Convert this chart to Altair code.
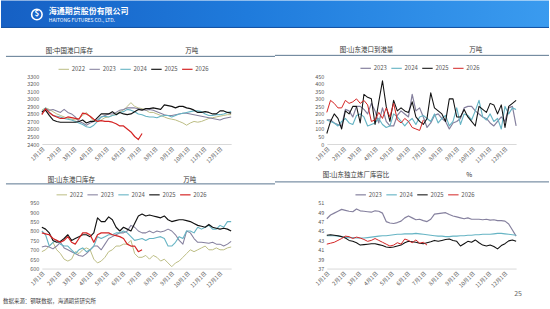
import altair as alt
import pandas as pd

# ---------------- data ----------------
month_days = [0, 31, 60, 91, 121, 152, 182, 213, 244, 274, 305, 335]
month_labels = ["1月1日", "2月1日", "3月1日", "4月1日", "5月1日", "6月1日",
                "7月1日", "8月1日", "9月1日", "10月1日", "11月1日", "12月1日"]

years5 = ["2022", "2023", "2024", "2025", "2026"]
years4 = ["2023", "2024", "2025", "2026"]

# Chart 1: 中国港口库存 (万吨)
c1_2022 = [2850,2880,2860,2830,2800,2780,2760,2740,2730,2720, 2740,2780,2820,2760,2700,2700,2720,2750,2760,2780,
           2800,2830,2850,2900,2950,2900,2880,2870,2850,2820, 2820,2800,2780,2760,2740,2730,2720,2700,2680,2650,
           2680,2700,2690,2700,2720,2740,2750,2760,2770,2780, 2790,2790]
c1_2023 = [2800,2870,2850,2860,2840,2820,2860,2820,2800,2760, 2700,2680,2650,2680,2700,2720,2760,2780,2800,2800,
           2820,2850,2860,2880,2880,2880,2870,2860,2850,2860, 2850,2830,2810,2790,2780,2780,2790,2800,2810,2810,
           2800,2790,2780,2770,2760,2750,2740,2730,2720,2740, 2750,2760]
c1_2024 = [2820,2880,2820,2780,2770,2760,2740,2730,2720,2700, 2680,2660,2630,2620,2650,2700,2760,2770,2760,2780,
           2790,2820,2830,2860,2850,2830,2800,2790,2770,2760, 2760,2750,2770,2780,2780,2760,2780,2800,2810,2820,
           2830,2840,2840,2830,2800,2780,2780,2790,2790,2800, 2820,2830]
c1_2025 = [2830,2850,2780,2720,2700,2690,2690,2690,2690,2690, 2700,2720,2680,2700,2700,2750,2800,2800,2800,2830,
           2790,2820,2800,2790,2800,2830,2860,2850,2870,2870, 2880,2870,2860,2920,2910,2900,2880,2900,2900,2880,
           2870,2850,2820,2820,2830,2820,2800,2800,2840,2840, 2820,2810]
c1_2026 = [2790,2870,2820,2780,2760,2740,2740,2760,2750,2740, 2730,2810,2800,2770,2730,2700,2710,2700,2700,2690,
           2670,2640,2640,2600,2560,2500,2460,2540]

# Chart 2: 山东港口到港量 (万吨)
c2_2023 = [160,160,140,130,120,230,220,180,250,250, 230,200,270,220,140,240,150,120,120,190,
           220,200,180,330,220,240,180,110,140,190, 200,170,150,100,140,150,170,240,250,250,
           220,200,180,170,140,120,150,180,150,240, 250,120]
c2_2024 = [160,150,140,120,150,170,140,130,190,200, 180,120,130,140,170,130,110,120,200,180,
           150,120,150,170,130,180,190,170,150,200, 140,170,190,120,150,240,130,200,190,160,
           220,290,180,160,200,150,170,100,250,200, 240,230]
c2_2025 = [70,150,200,170,100,220,200,250,250,140, 330,310,300,130,280,420,250,150,290,220,
           240,220,210,280,180,150,130,170,340,240, 220,200,150,300,300,180,180,230,180,150,
           120,250,230,210,270,260,200,260,110,250, 270,290]
c2_2026 = [210,290,270,240,240,290,270,280,300,270, 290,260,150,160,210,170,240,180,270,160,
           140,170,150,110,100,90,160]

# Chart 3: 山东港口库存 (万吨)
c3_2022 = [690,700,720,740,700,680,650,640,650,690, 680,700,710,700,650,630,640,660,690,700,
           720,720,730,730,750,680,660,660,670,650, 670,660,640,650,630,610,630,640,660,680,
           700,690,700,710,720,700,700,710,700,700, 710,715]
c3_2023 = [715,720,715,705,720,740,710,700,690,680, 670,665,680,700,720,720,700,730,760,770,
           780,790,790,800,830,820,800,790,790,800, 790,800,795,800,810,800,780,750,730,800,
           790,760,740,740,738,735,740,730,730,720, 730,745]
c3_2024 = [800,780,720,740,750,730,720,720,700,680, 700,710,690,700,720,770,760,770,780,780,
           790,790,800,790,770,750,755,760,750,760, 760,765,770,760,720,720,740,770,760,800,
           800,790,820,810,820,830,810,810,830,820, 850,850]
c3_2025 = [820,810,790,750,740,745,760,780,750,760, 770,780,780,770,790,870,850,850,875,860,
           820,800,820,810,800,840,880,890,880,885, 880,875,870,880,860,850,855,860,860,855,
           850,840,830,825,820,835,820,815,810,815, 810,800]
c3_2026 = [790,785,780,760,750,740,750,770,740,730, 760,790,790,780,740,780,790,790,790,780,
           775,770,760,730,720,720,690,700]

# Chart 4: 山东独立炼厂库容比 (%)
c4_2023 = [47.6,48.4,48.8,49.2,49.6,49.4,49.2,49.1,49.7,49.3, 49.2,49.1,49.0,49.3,49.2,48.8,47.0,46.7,46.6,46.8,
           47.1,47.8,48.2,47.8,47.4,47.5,47.2,47.0,47.5,48.6, 48.7,48.8,48.9,48.5,48.2,48.0,47.8,47.6,47.8,47.5,
           47.5,47.5,47.4,47.5,47.3,47.4,47.2,47.2,47.1,46.5, 45.2,43.9]
c4_2024 = [44.0,44.0,44.0,43.9,43.8,43.7,43.6,43.6,43.5,43.5, 43.5,43.6,43.7,43.8,43.9,44.0,44.0,44.1,44.2,44.3,
           44.3,44.4,44.4,44.4,44.5,44.4,44.3,44.2,44.1,44.0, 43.9,43.9,43.8,43.8,43.9,43.9,44.0,44.0,44.1,44.1,
           44.2,44.2,44.3,44.3,44.3,44.4,44.5,44.5,44.4,44.3, 44.2,44.1]
c4_2025 = [44.1,44.2,44.1,44.0,43.8,43.5,43.0,42.8,42.5,42.0, 42.1,42.2,42.3,42.3,42.1,41.9,41.6,41.5,41.6,41.8,
           42.0,42.5,42.8,42.7,42.6,42.4,42.3,42.5,42.7,43.0, 42.8,43.0,43.2,43.3,43.0,42.8,41.8,42.3,42.8,42.6,
           43.1,42.5,42.0,41.8,42.0,41.7,41.2,41.9,42.3,42.9, 43.1,42.8]
c4_2026 = [42.2,42.4,42.6,43.0,43.4,43.9,43.8,43.4,43.7,43.5, 43.2,42.8,43.0,43.4,43.0,42.6,42.2,41.8,42.0,42.5,
           42.2,43.3,43.0,42.5,43.1,42.4,42.6,42.0]

color_map = {"2022": "#bcbd84", "2023": "#85809e", "2024": "#66b4c4", "2025": "#111111", "2026": "#d42424"}
width_map = {"2022": 1.0, "2023": 1.2, "2024": 1.0, "2025": 1.8, "2026": 1.8}

FONT = "Noto Sans CJK SC"
LABEL_COLOR = "#595959"
W, H1, H2 = 190, 68, 66


def long_df(series):
    rows = []
    for yr, vals in series.items():
        for i, v in enumerate(vals):
            rows.append({"day": 7 * i, "val": v, "year": yr})
    return pd.DataFrame(rows)


def text_layer(txt, x, y, size=6.5, color="#333333", weight="normal", align="left"):
    return alt.Chart(pd.DataFrame({"t": [txt]})).mark_text(
        font=FONT, fontSize=size, color=color, fontWeight=weight, align=align, baseline="middle"
    ).encode(text="t:N", x=alt.value(x), y=alt.value(y))


def rule_layer(x1, x2, y, color="#5b7690", width=1.0):
    return alt.Chart(pd.DataFrame({"a": [0]})).mark_rule(color=color, strokeWidth=width).encode(
        x=alt.value(x1), x2=alt.value(x2), y=alt.value(y))


label_expr = "[" + ",".join("'%s'" % s for s in month_labels) + "][indexof([" + \
    ",".join(str(d) for d in month_days) + "], datum.value)]"


def panel(series, years, ydom, ystep, h, legend_xy, extras):
    df = long_df(series)
    leg = dict(orient="none", legendX=legend_xy[0], legendY=legend_xy[1], direction="horizontal",
               title=None, symbolType="stroke", symbolSize=110, labelFontSize=6, labelColor=LABEL_COLOR,
               labelFont=FONT, columnPadding=1, labelOffset=2, padding=0)
    yvals = [ydom[0] + k * ystep for k in range(int(round((ydom[1] - ydom[0]) / ystep)) + 1)]
    lines = alt.Chart(df).mark_line(strokeJoin="round").encode(
        x=alt.X("day:Q", scale=alt.Scale(domain=[0, 357], nice=False, zero=False),
                axis=alt.Axis(values=month_days, labelExpr=label_expr, labelAngle=-45, title=None,
                              grid=False, ticks=False, domain=True, domainColor="#d9d9d9",
                              labelFontSize=5.5, labelColor=LABEL_COLOR, labelFont=FONT,
                              labelPadding=2, labelOverlap=False)),
        y=alt.Y("val:Q", scale=alt.Scale(domain=ydom, nice=False, zero=False),
                axis=alt.Axis(values=yvals, format="d",
                              title=None, grid=False, ticks=False, domain=False,
                              labelFontSize=5.5, labelColor=LABEL_COLOR, labelFont=FONT, labelPadding=3)),
        color=alt.Color("year:O", scale=alt.Scale(domain=years, range=[color_map[y] for y in years]),
                        legend=alt.Legend(**leg)),
        strokeWidth=alt.StrokeWidth("year:O", scale=alt.Scale(domain=years, range=[width_map[y] for y in years]),
                                    legend=alt.Legend(**leg)),
        order=alt.Order("year:O"),
    )
    return alt.layer(lines, *extras).properties(width=W, height=h)


# ---- header banner (drawn in panel 1's frame) ----
banner = alt.Chart(pd.DataFrame({"a": [0]})).mark_rect(
    color=alt.LinearGradient(gradient="linear", x1=0, x2=1, y1=0, y2=0,
                             stops=[alt.GradientStop(color="#1660c4", offset=0),
                                    alt.GradientStop(color="#1f7bdc", offset=0.45),
                                    alt.GradientStop(color="#3a9bef", offset=1)])
).encode(x=alt.value(-41), x2=alt.value(509), y=alt.value(-76), y2=alt.value(-49))
banner_line = rule_layer(-41, 509, -49, color="#0f4fa3", width=1)
logo = alt.Chart(pd.DataFrame({"a": [0]})).mark_point(
    shape="circle", filled=False, color="white", strokeWidth=1.6, size=110, opacity=1
).encode(x=alt.value(-5), y=alt.value(-62))
logo_mark = text_layer("$", -5, -62, size=8, color="white", weight="bold", align="center")
logo_cn = text_layer("海通期货股份有限公司", 7, -65, size=8, color="white", weight="bold")
logo_en = text_layer("HAITONG FUTURES CO., LTD.", 7, -56, size=5, color="white")

p1 = panel({"2022": c1_2022, "2023": c1_2023, "2024": c1_2024, "2025": c1_2025, "2026": c1_2026},
           years5, [2400, 3300], 100, H1, (16, -13),
           [banner, banner_line, logo, logo_mark, logo_cn, logo_en,
            rule_layer(-36, 234, -20),
            text_layer("图:中国港口库存", 4, -25),
            text_layer("万吨", 144, -25)])

p2 = panel({"2023": c2_2023, "2024": c2_2024, "2025": c2_2025, "2026": c2_2026},
           years4, [0, 450], 50, H1, (33, -14),
           [rule_layer(-52, 223, -21),
            text_layer("图:山东港口到港量", 13, -26),
            text_layer("万吨", 143, -26)])

p3 = panel({"2022": c3_2022, "2023": c3_2023, "2024": c3_2024, "2025": c3_2025, "2026": c3_2026},
           years5, [600, 950], 50, H2, (14, -14),
           [rule_layer(-36, 234, -19),
            text_layer("图:山东港口库存", 6, -23),
            text_layer("万吨", 142, -23),
            text_layer("数据来源：钢联数据，海通期货研究所", -39, 99, size=5.5, color="#444444")])

p4 = panel({"2023": c4_2023, "2024": c4_2024, "2025": c4_2025, "2026": c4_2026},
           years4, [37, 51], 2, H2, (28, -14),
           [rule_layer(-52, 223, -21),
            text_layer("图:山东独立炼厂库容比", -4, -28),
            text_layer("%", 140, -28),
            text_layer("25", 188, 92, size=7, color="#666666")])

chart = alt.concat(p1, p2, p3, p4, columns=2,
                   spacing=alt.RowColnumber(row=59, column=96), bounds="flush").resolve_scale(
    x="independent", y="independent", color="independent", strokeWidth="independent"
).resolve_legend(color="independent", strokeWidth="independent").properties(
    padding=0, background="white"
).configure_view(stroke=None)

chart.save("out.html", embed_options={"renderer": "svg", "actions": False})
